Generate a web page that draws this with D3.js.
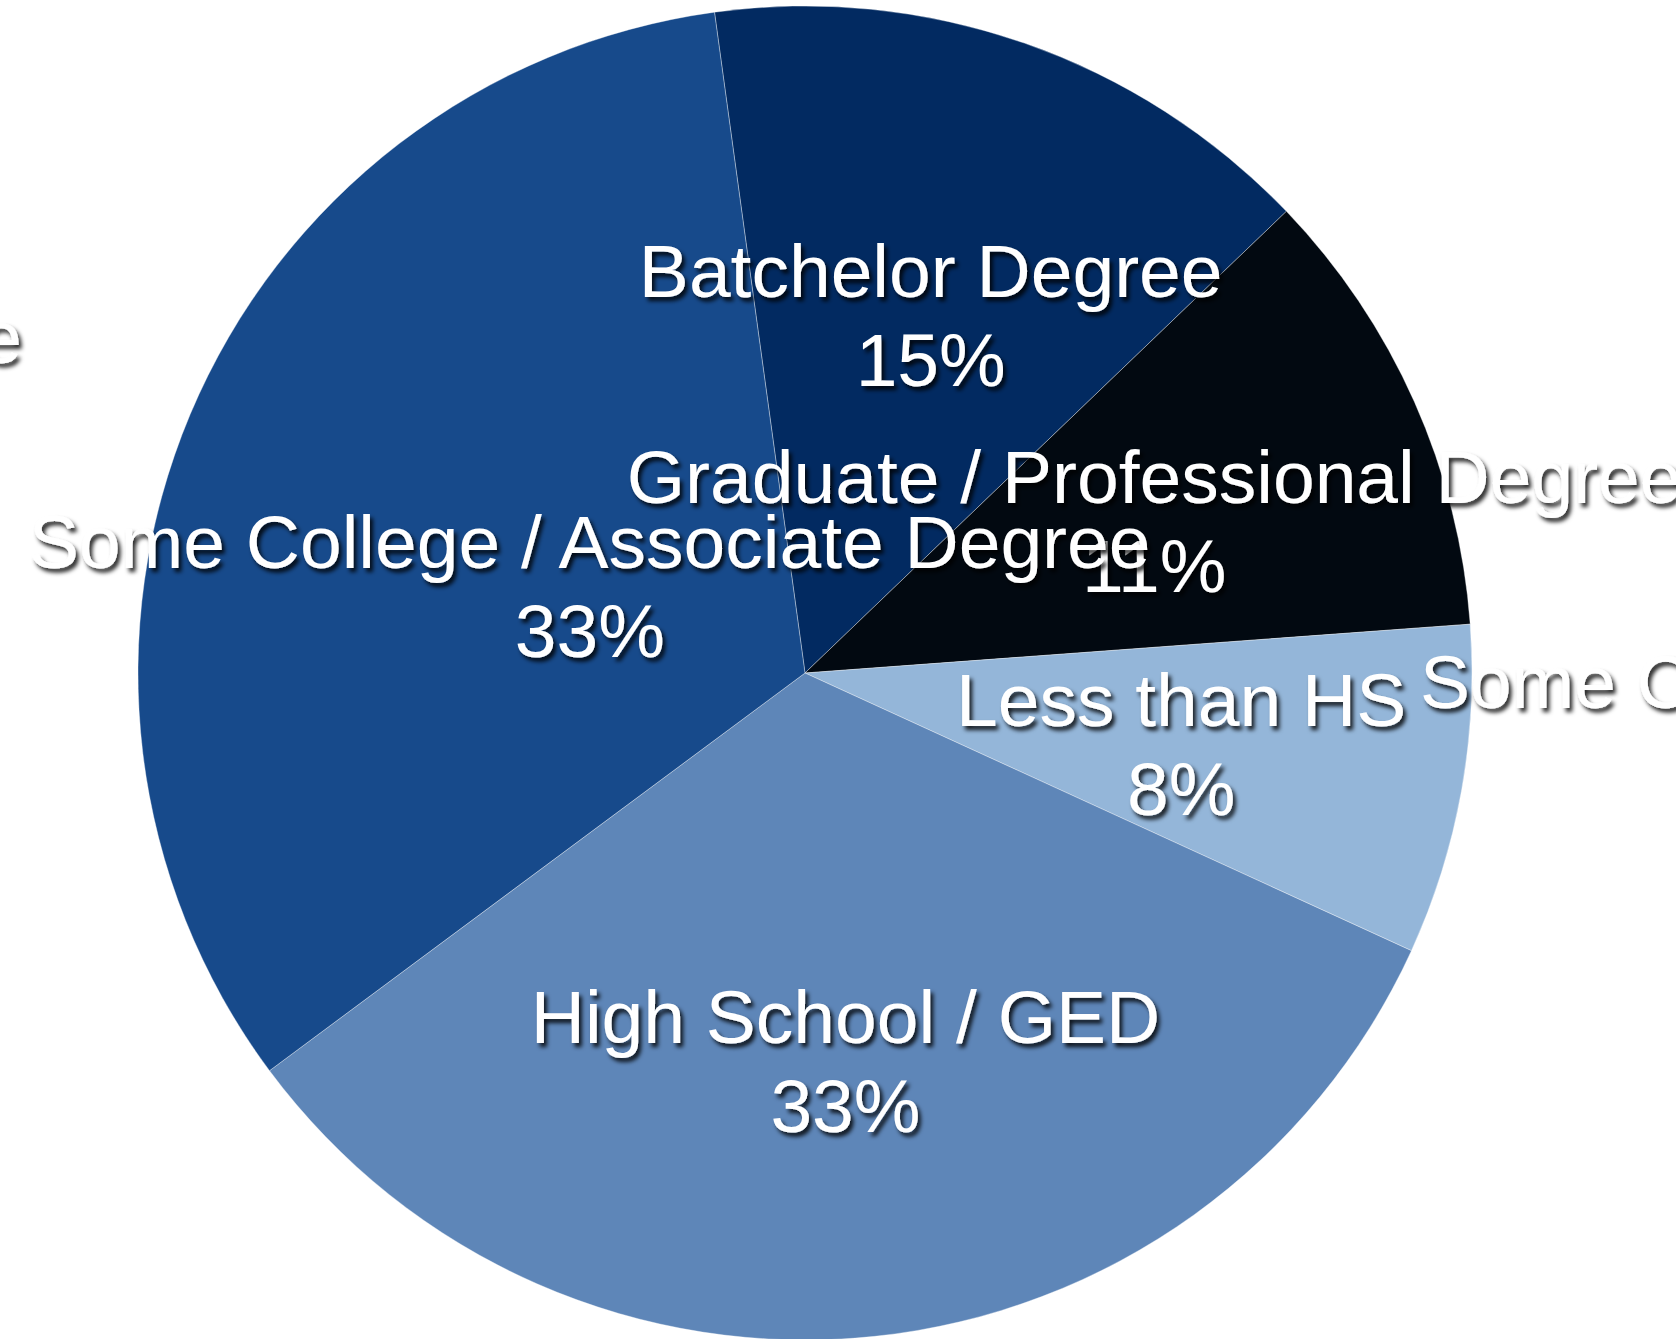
<!DOCTYPE html>
<html>
<head>
<meta charset="utf-8">
<script src="https://cdn.jsdelivr.net/npm/d3@7"></script>
<style>
  html, body { margin: 0; padding: 0; background: #ffffff; overflow: hidden; }
  svg { display: block; }
  text { font-family: "Liberation Sans", Arial, Helvetica, sans-serif; }
</style>
</head>
<body>
<svg id="chart" width="1676" height="1339"></svg>
<script>
// Education level shares
const categories = [
  "Batchelor Degree",
  "Graduate / Professional Degree",
  "Less than HS",
  "High School / GED",
  "Some College / Associate Degree"
];
const values = [15, 11, 8, 33, 33];
const percentLabels = ["15%", "11%", "8%", "33%", "33%"];
const sliceColors = ["#022a61", "#020911", "#94b6d9", "#5e86b8", "#174a8b"];

// Label distance from the centre, as a fraction of the radius
const labelRadiusFactor = [0.573, 0.573, 0.573, 0.58, 0.35];

const width = 1676, height = 1339;
const cx = 805, cy = 673, radius = 667;
const fontSize = 75, lineGap = 89;

const svg = d3.select("#chart");

const defs = svg.append("defs");
const shadow = defs.append("filter")
  .attr("id", "textShadow")
  .attr("x", "-10%").attr("y", "-30%")
  .attr("width", "130%").attr("height", "180%");
shadow.append("feDropShadow")
  .attr("dx", 3).attr("dy", 4)
  .attr("stdDeviation", 2.2)
  .attr("flood-color", "#000")
  .attr("flood-opacity", 0.85);

const data = categories.map((c, i) => ({
  name: c, value: values[i], pct: percentLabels[i],
  color: sliceColors[i], lr: labelRadiusFactor[i]
}));

const startDeg = -7.8;
const pie = d3.pie()
  .sort(null)
  .value(d => d.value)
  .startAngle(startDeg * Math.PI / 180)
  .endAngle(startDeg * Math.PI / 180 + 2 * Math.PI);

const arcs = pie(data);
const arc = d3.arc().innerRadius(0).outerRadius(radius);

const g = svg.append("g").attr("transform", `translate(${cx},${cy})`);

g.selectAll("path.slice")
  .data(arcs)
  .join("path")
  .attr("class", "slice")
  .attr("d", arc)
  .attr("fill", d => d.data.color)
  .attr("stroke", "rgba(255,255,255,0.35)")
  .attr("stroke-width", 1);

// Inner labels: name on the first line, share on the second
const labels = g.selectAll("g.label")
  .data(arcs)
  .join("g")
  .attr("class", "label")
  .attr("filter", "url(#textShadow)")
  .attr("transform", d => {
    const r = radius * d.data.lr;
    const [x, y] = d3.arc().innerRadius(r).outerRadius(r).centroid(d);
    return `translate(${x},${y})`;
  });

labels.append("text")
  .attr("text-anchor", "middle")
  .attr("y", -15)
  .attr("fill", "#fff")
  .attr("font-size", fontSize)
  .text(d => d.data.name);

labels.append("text")
  .attr("text-anchor", "middle")
  .attr("y", -15 + lineGap)
  .attr("fill", "#fff")
  .attr("font-size", fontSize)
  .text(d => d.data.pct);

// Outer label copies that run past the edges of the canvas
const outer = svg.append("g").attr("filter", "url(#textShadow)");
outer.append("text")
  .attr("x", 1420).attr("y", 708)
  .attr("text-anchor", "start")
  .attr("fill", "#fff")
  .attr("font-size", fontSize)
  .text(categories[4]);
outer.append("text")
  .attr("x", 22).attr("y", 363)
  .attr("text-anchor", "end")
  .attr("fill", "#fff")
  .attr("font-size", fontSize)
  .text(categories[1]);
</script>
</body>
</html>
